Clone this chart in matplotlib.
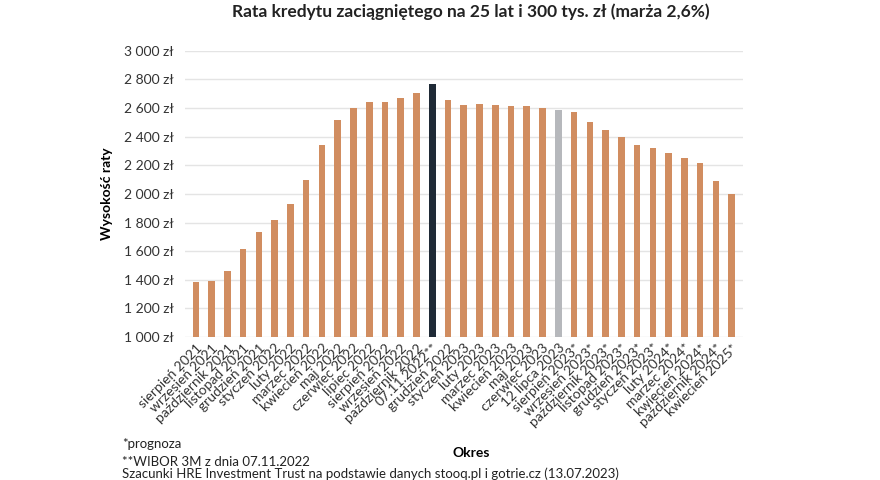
import matplotlib
matplotlib.use("Agg")
import matplotlib.pyplot as plt
from matplotlib.ticker import FuncFormatter

plt.rcParams['font.family'] = ['Lato', 'DejaVu Sans']

# Data
months = [
    "sierpień 2021", "wrzesień 2021", "październik 2021", "listopad 2021",
    "grudzień 2021", "styczeń 2022", "luty 2022", "marzec 2022",
    "kwiecień 2022", "maj 2022", "czerwiec 2022", "lipiec 2022",
    "sierpień 2022", "wrzesień 2022", "październik 2022", "07.11.2022**",
    "grudzień 2022", "styczeń 2023", "luty 2023", "marzec 2023",
    "kwiecień 2023", "maj 2023", "czerwiec 2023", "12 lipca 2023",
    "sierpień 2023*", "wrzesień 2023*", "październik 2023*", "listopad 2023*",
    "grudzień 2023*", "styczeń 2023*", "luty 2024*", "marzec 2024*",
    "kwiecień 2024*", "październik 2024*", "kwiecień 2025*",
]
rates = [
    1386, 1393, 1462, 1614, 1735, 1818, 1928, 2100, 2339, 2519,
    2602, 2642, 2646, 2670, 2709, 2767, 2655, 2621, 2626, 2623,
    2616, 2616, 2598, 2586, 2574, 2505, 2449, 2398, 2344, 2323,
    2284, 2253, 2219, 2093, 2000,
]
highlight_dark = "07.11.2022**"
highlight_gray = "12 lipca 2023"

colors = []
for m in months:
    if m == highlight_dark:
        colors.append("#1f2a36")
    elif m == highlight_gray:
        colors.append("#b6b8bc")
    else:
        colors.append("#d18d60")

fig = plt.figure(figsize=(8.8, 4.8), dpi=100)
ax = fig.add_axes([0.21, 0.298, 0.634, 0.596])

x = range(len(months))
ax.bar(x, [r - 1000 for r in rates], bottom=1000, width=0.42, color=colors, zorder=3)

ax.set_ylim(1000, 3000)
ax.set_xlim(-0.7, len(months) - 0.3)
ax.set_yticks(range(1000, 3001, 200))
ax.yaxis.set_major_formatter(FuncFormatter(lambda v, p: f"{int(v):,} zł".replace(",", " ")))
ax.grid(axis='y', color='#e4e4e4', linewidth=1, zorder=0)
for s in ax.spines.values():
    s.set_visible(False)
ax.tick_params(axis='both', length=0, labelsize=10, colors='#333333')
ax.tick_params(axis='y', pad=8)

ax.set_xticks(list(x))
ax.set_xticklabels(months, rotation=45, ha='right', rotation_mode='anchor', fontsize=10)

ax.set_ylabel("Wysokość raty", fontsize=10, fontweight='bold', labelpad=8)

fig.text(0.535, 0.975, "Rata kredytu zaciągniętego na 25 lat i 300 tys. zł (marża 2,6%)",
         ha='center', va='center', fontsize=12.5, fontweight='bold', color='#222222')
fig.text(0.535, 0.057, "Okres", ha='center', va='center', fontsize=10, fontweight='bold')

fig.text(0.139, 0.075, "*prognoza", fontsize=9.5, va='center', color='#222222')
fig.text(0.139, 0.038, "**WIBOR 3M z dnia 07.11.2022", fontsize=9.5, va='center', color='#222222')
fig.text(0.139, 0.001, "Szacunki HRE Investment Trust na podstawie danych stooq.pl i gotrie.cz (13.07.2023)",
         fontsize=9.5, va='bottom', color='#222222')

fig.savefig("out.png", dpi=100)
